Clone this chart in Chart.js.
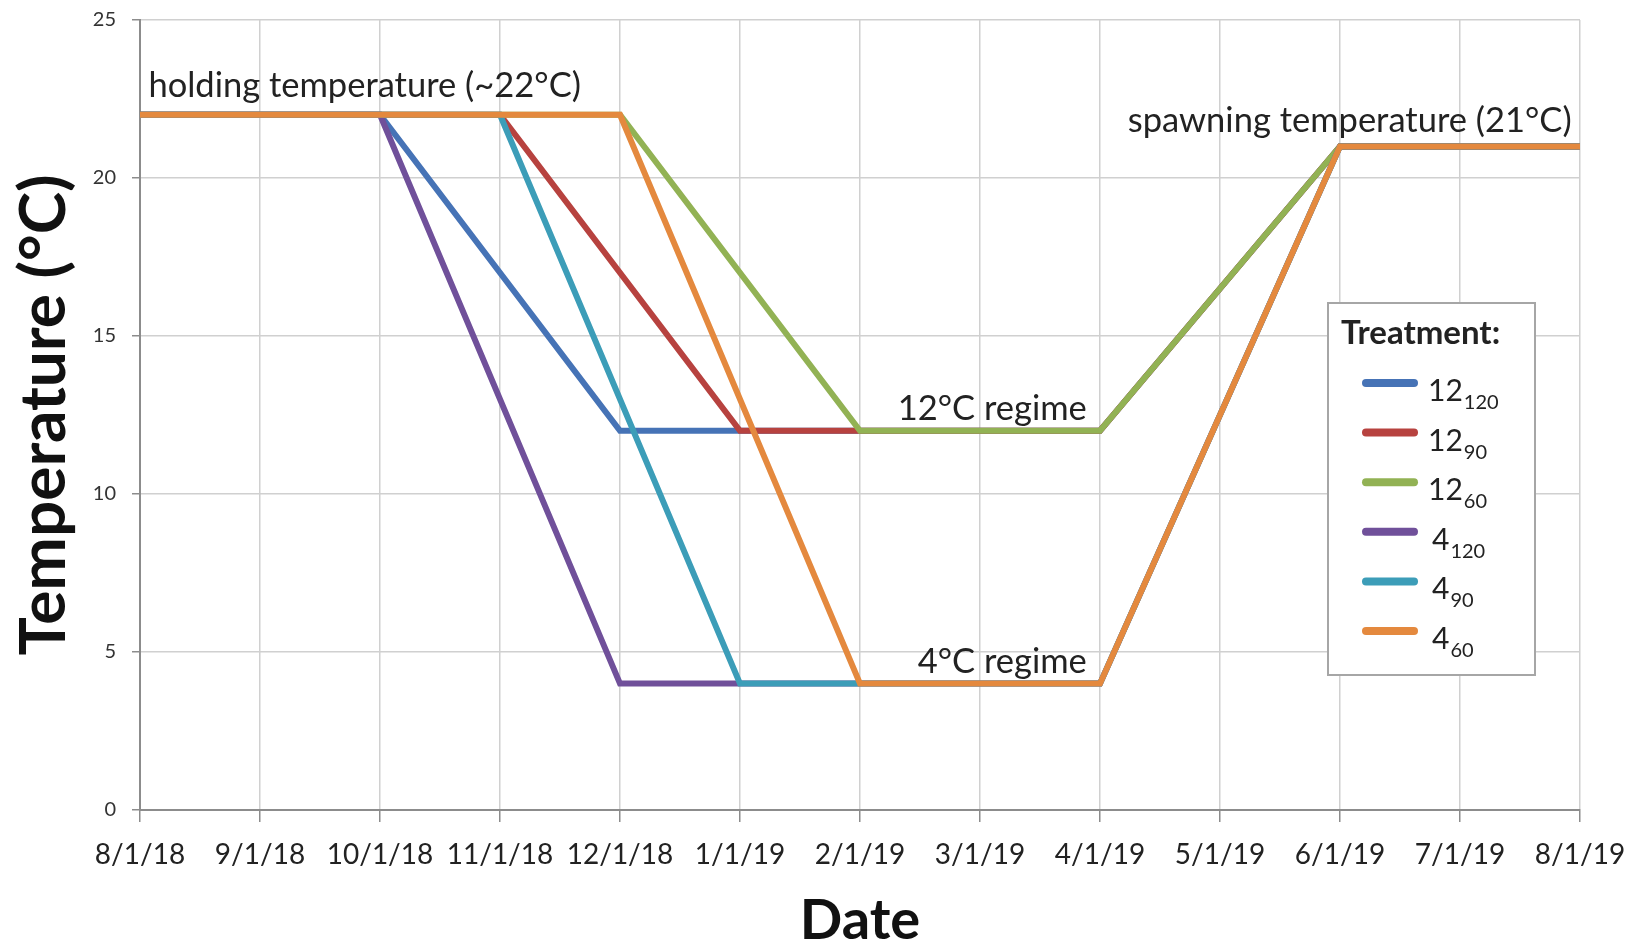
<!DOCTYPE html>
<html>
<head>
<meta charset="utf-8">
<script src="https://cdn.jsdelivr.net/npm/chart.js@4.4.1/dist/chart.umd.min.js"></script>
<style>
  html, body { margin: 0; padding: 0; background: #fff; }
</style>
</head>
<body>
<canvas id="myChart" width="1645" height="946"></canvas>
<script>
const dateLabels = ["8/1/18", "9/1/18", "10/1/18", "11/1/18", "12/1/18", "1/1/19", "2/1/19",
  "3/1/19", "4/1/19", "5/1/19", "6/1/19", "7/1/19", "8/1/19"];
const yTicks = [0, 5, 10, 15, 20, 25];

// breakpoints only, straight lines between (null = no reading there)
const t12_120 = [22, null, 22, null, 12, null, null, null, 12, null, 21, null, 21];
const t12_90  = [22, null, null, 22, null, 12, null, null, 12, null, 21, null, 21];
const t12_60  = [22, null, null, null, 22, null, 12, null, 12, null, 21, null, 21];
const t4_120  = [22, null, 22, null, 4, null, null, null, 4, null, 21, null, 21];
const t4_90   = [22, null, null, 22, null, 4, null, null, 4, null, 21, null, 21];
const t4_60   = [22, null, null, null, 22, null, 4, null, 4, null, 21, null, 21];

const seriesBase = ["12", "12", "12", "4", "4", "4"];
const seriesSub = ["120", "90", "60", "120", "90", "60"];
const seriesData = [t12_120, t12_90, t12_60, t4_120, t4_90, t4_60];
const seriesColors = ["#4673B6", "#B7423F", "#92B254", "#70509A", "#3C9DB8", "#E4893E"];

const noteTexts = ["holding temperature (~22°C)", "spawning temperature (21°C)", "12°C regime", "4°C regime"];

const FONT = "Lato, 'Open Sans', sans-serif";
const TXT = "#222222";

const notesPlugin = {
  id: "notes",
  afterDatasetsDraw(chart, args, opts) {
    const ctx = chart.ctx;
    const xs = chart.scales.x, ys = chart.scales.y;
    ctx.save();
    ctx.font = "34.5px " + FONT;
    ctx.fillStyle = TXT;
    ctx.textBaseline = "alphabetic";
    opts.items.forEach((n) => {
      ctx.textAlign = n.align;
      ctx.fillText(n.text, xs.getPixelForValue(n.x), ys.getPixelForValue(n.y));
    });
    ctx.restore();
  }
};

const legendBoxPlugin = {
  id: "legendBox",
  afterDraw(chart, args, o) {
    const ctx = chart.ctx;
    ctx.save();
    ctx.fillStyle = "#ffffff";
    ctx.fillRect(o.left, o.top, o.width, o.height);
    ctx.strokeStyle = "#a6a6a6";
    ctx.lineWidth = 2;
    ctx.strokeRect(o.left, o.top, o.width, o.height);

    ctx.fillStyle = TXT;
    ctx.textAlign = "left";
    ctx.textBaseline = "alphabetic";
    ctx.font = "bold 33px " + FONT;
    ctx.fillText("Treatment:", o.left + 13, o.top + 41);

    chart.data.datasets.forEach((ds, i) => {
      const y = o.top + 80 + i * 49.6;
      ctx.strokeStyle = ds.borderColor;
      ctx.lineWidth = 8;
      ctx.lineCap = "round";
      ctx.beginPath();
      ctx.moveTo(o.left + 38, y);
      ctx.lineTo(o.left + 86, y);
      ctx.stroke();
      ctx.fillStyle = TXT;
      ctx.font = "30px " + FONT;
      const bx = o.left + 100 + (seriesBase[i].length === 1 ? 4 : 0);
      ctx.fillText(seriesBase[i], bx, y + 18);
      const w = ctx.measureText(seriesBase[i]).width;
      ctx.font = "20px " + FONT;
      ctx.fillText(seriesSub[i], bx + w + 1, y + 26);
    });
    ctx.restore();
  }
};

const datasets = seriesData.map((d, i) => ({
  label: seriesBase[i] + "_" + seriesSub[i],
  data: d,
  borderColor: seriesColors[i],
  backgroundColor: seriesColors[i],
  borderWidth: 6,
  pointRadius: 0,
  spanGaps: true,
  tension: 0,
  order: seriesData.length - i
}));

const config = {
  type: "line",
  data: { labels: dateLabels, datasets: datasets },
  options: {
    responsive: false,
    animation: false,
    devicePixelRatio: 1,
    layout: { padding: { top: 20, right: 65, left: 0, bottom: 0 } },
    plugins: {
      legend: { display: false },
      tooltip: { enabled: false },
      notes: {
        items: [
          { text: noteTexts[0], x: 0.07, y: 22.56, align: "left" },
          { text: noteTexts[1], x: 11.93, y: 21.46, align: "right" },
          { text: noteTexts[2], x: 7.89, y: 12.33, align: "right" },
          { text: noteTexts[3], x: 7.89, y: 4.33, align: "right" }
        ]
      },
      legendBox: { left: 1328, top: 303, width: 207, height: 372 }
    },
    scales: {
      x: {
        type: "category",
        offset: false,
        afterFit: (s) => { s.height = 136; },
        grid: { color: "#d0d0d0", lineWidth: 1.5, tickLength: 12, tickColor: "#8c8c8c" },
        border: { color: "#8c8c8c", width: 2 },
        ticks: { color: TXT, font: { family: FONT, size: 28 }, padding: 16, maxRotation: 0, autoSkip: false },
        title: {
          display: true, text: "Date", color: "#111",
          font: { family: FONT, size: 56, weight: "bold", lineHeight: 1 },
          padding: { top: 0, bottom: -3 }
        }
      },
      y: {
        min: 0, max: 25,
        afterFit: (s) => { s.width = 140; s.paddingTop = 0; s.paddingBottom = 0; },
        afterBuildTicks: (s) => { s.ticks = yTicks.map((v) => ({ value: v })); },
        grid: { color: "#d0d0d0", lineWidth: 1.5, tickLength: 8, tickColor: "#8c8c8c" },
        border: { color: "#8c8c8c", width: 2 },
        ticks: { color: "#333", font: { family: FONT, size: 20 }, padding: 16 },
        title: {
          display: true, text: "Temperature (°C)", color: "#111",
          font: { family: FONT, size: 64, weight: "bold", lineHeight: 1 },
          padding: { top: 12, bottom: 12 }
        }
      }
    }
  },
  plugins: [notesPlugin, legendBoxPlugin]
};

const myChart = new Chart(document.getElementById("myChart"), config);
</script>
</body>
</html>
